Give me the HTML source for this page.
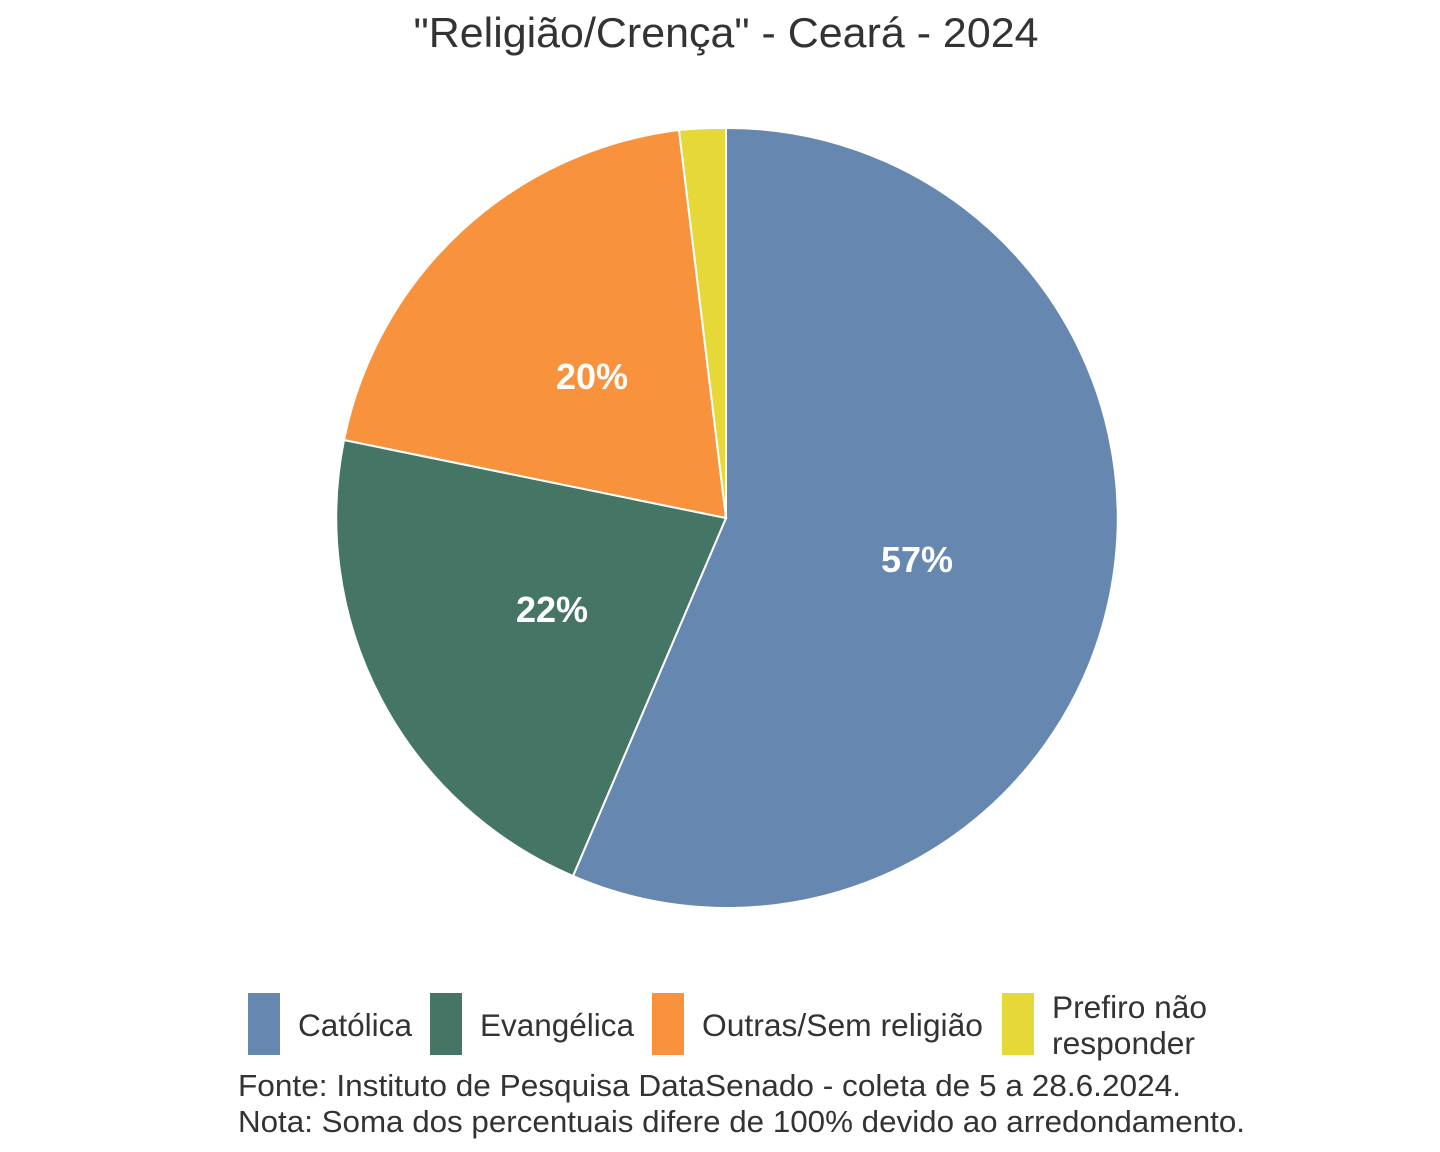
<!DOCTYPE html>
<html><head><meta charset="utf-8"><style>
html,body{margin:0;padding:0;background:#fff;}
svg{display:block;font-family:"Liberation Sans",sans-serif;}
</style></head><body>
<svg width="1440" height="1152" viewBox="0 0 1440 1152">
<text x="726" y="47" font-size="42" fill="#333" text-anchor="middle" textLength="625" lengthAdjust="spacingAndGlyphs">"Religião/Crença" - Ceará - 2024</text>
<g stroke="#fff" stroke-width="2">
<path d="M726,518 L726,128 A390,390 0 1 1 573,876 Z" fill="#6688B0"/>
<path d="M726,518 L573,876 A390,390 0 0 1 344,440 Z" fill="#457564"/>
<path d="M726,518 L344,440 A390,390 0 0 1 679,130 Z" fill="#F8923C"/>
<path d="M726,518 L679,130 A390,390 0 0 1 726,128 Z" fill="#E5D838"/>
</g>
<g font-size="36" font-weight="bold" fill="#fff" text-anchor="middle">
<text x="917" y="572">57%</text>
<text x="552" y="622">22%</text>
<text x="592" y="389">20%</text>
</g>
<rect x="248" y="993" width="32" height="62" fill="#6688B0"/>
<rect x="430" y="993" width="32" height="62" fill="#457564"/>
<rect x="652" y="993" width="32" height="62" fill="#F8923C"/>
<rect x="1002" y="993" width="32" height="62" fill="#E5D838"/>
<g font-size="31.5" fill="#333">
<text x="298" y="1036" textLength="114" lengthAdjust="spacingAndGlyphs">Católica</text>
<text x="480" y="1036" textLength="154" lengthAdjust="spacingAndGlyphs">Evangélica</text>
<text x="702" y="1036" textLength="281" lengthAdjust="spacingAndGlyphs">Outras/Sem religião</text>
<text x="1052" y="1018" textLength="155" lengthAdjust="spacingAndGlyphs">Prefiro não</text>
<text x="1052" y="1054" textLength="143" lengthAdjust="spacingAndGlyphs">responder</text>
</g>
<g font-size="31" fill="#333">
<text x="238" y="1096" textLength="943" lengthAdjust="spacingAndGlyphs">Fonte: Instituto de Pesquisa DataSenado - coleta de 5 a 28.6.2024.</text>
<text x="238" y="1132" textLength="1007" lengthAdjust="spacingAndGlyphs">Nota: Soma dos percentuais difere de 100% devido ao arredondamento.</text>
</g>
</svg>
</body></html>
